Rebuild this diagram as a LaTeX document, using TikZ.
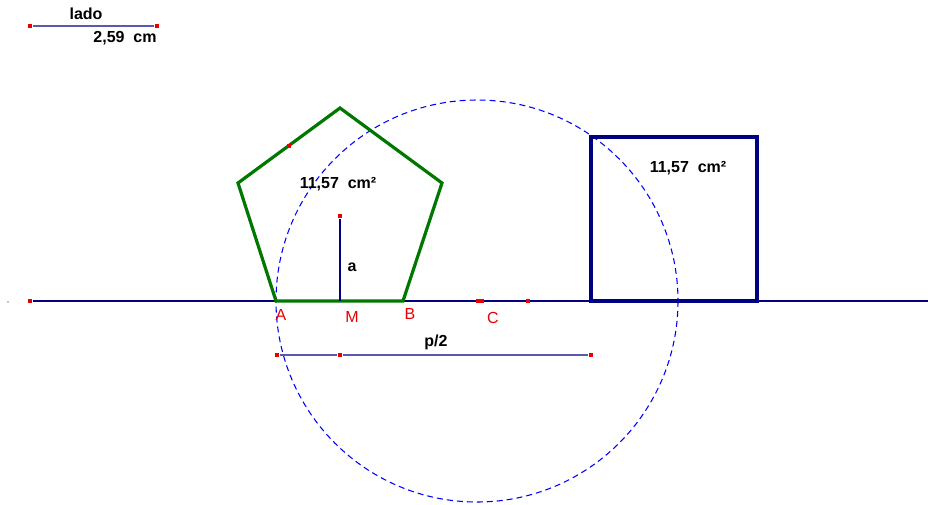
\documentclass[tikz,border=0pt]{standalone}
\usepackage{fontspec}
\setmainfont{Liberation Sans}
\usetikzlibrary{positioning}
\definecolor{navyline}{RGB}{0, 0, 128}
\definecolor{lilac}{RGB}{90, 90, 170}
\definecolor{pentgreen}{RGB}{0, 120, 0}
\definecolor{sqblue}{RGB}{0, 0, 130}
\definecolor{ptred}{RGB}{230, 0, 0}

\begin{document}
\begin{tikzpicture}[x=0.75pt, y=-0.75pt,
    pnt/.style={rectangle, fill=ptred, inner sep=0pt, minimum size=3.5pt},
    val/.style={font=\fontsize{12}{14}\selectfont\bfseries, text=black},
    lbl/.style={font=\fontsize{12}{14}\selectfont, text=ptred},
    baseline/.style={navyline, line width=1.4pt},
    measure/.style={lilac, line width=1.2pt},
    pentagon/.style={pentgreen, line width=2.4pt, line join=miter},
    square/.style={sqblue, line width=3pt},
    circ/.style={blue, dash pattern=on 4.5pt off 3pt, line width=0.8pt}]

\useasboundingbox (0,0) rectangle (928,504);

% Side length
\node[pnt] (l1) at (30,26) {};
\node[pnt] (l2) at (157,26) {};
\draw[measure] (l1) -- (l2);
\node[val] (lado) at (86,14) {lado};
\node[val] (ladov) at (125,38) {2,59\ \ cm};

% Base line
\node[pnt] (s0) at (30,301) {};
\coordinate (s1) at (928,301);
\fill[navyline] (8,302) circle (0.7);
\draw[baseline] (s0) -- (s1);

% Circle through A
\coordinate (O) at (477,301);
\draw[circ] (O) circle (201);

% Pentagon
\coordinate (A) at (276,301);
\coordinate (B) at (403,301);
\coordinate (P3) at (442,183);
\coordinate (P4) at (340,108);
\coordinate (P5) at (238,183);
\draw[pentagon] (A) -- (B) -- (P3) -- (P4) -- (P5) -- cycle;
\node[pnt] (q) at (289,146) {};

% Apothem
\node[pnt] (Z) at (340,216) {};
\coordinate (M) at (340,301);
\draw[navyline, line width=1pt] (Z) -- (M);
\node[val] (apo) at (352,267) {a};
\node[val] (areap) at (338,184) {11,57\ \ cm²};

% Points on base line
\node[rectangle, fill=ptred, inner sep=0pt, minimum width=6pt, minimum height=3pt] (C) at (480,301) {};
\node[pnt] (D) at (528,301) {};
\node[lbl] (la) at (281,315) {A};
\node[lbl] (lm) at (352,317) {M};
\node[lbl] (lb) at (410,314) {B};
\node[lbl] (lc) at (493,318) {C};

% Square
\coordinate (Q1) at (591,137);
\coordinate (Q2) at (757,301);
\draw[square] (Q1) rectangle (Q2);
\node[val] (areaq) at (688,168) {11,57\ \ cm²};

% Half perimeter
\node[pnt] (h1) at (277,355) {};
\node[pnt] (h2) at (340,355) {};
\node[pnt] (h3) at (591,355) {};
\draw[measure] (h1) -- (h2) -- (h3);
\node[val] (half) at (436,342) {p/2};

\end{tikzpicture}
\end{document}
